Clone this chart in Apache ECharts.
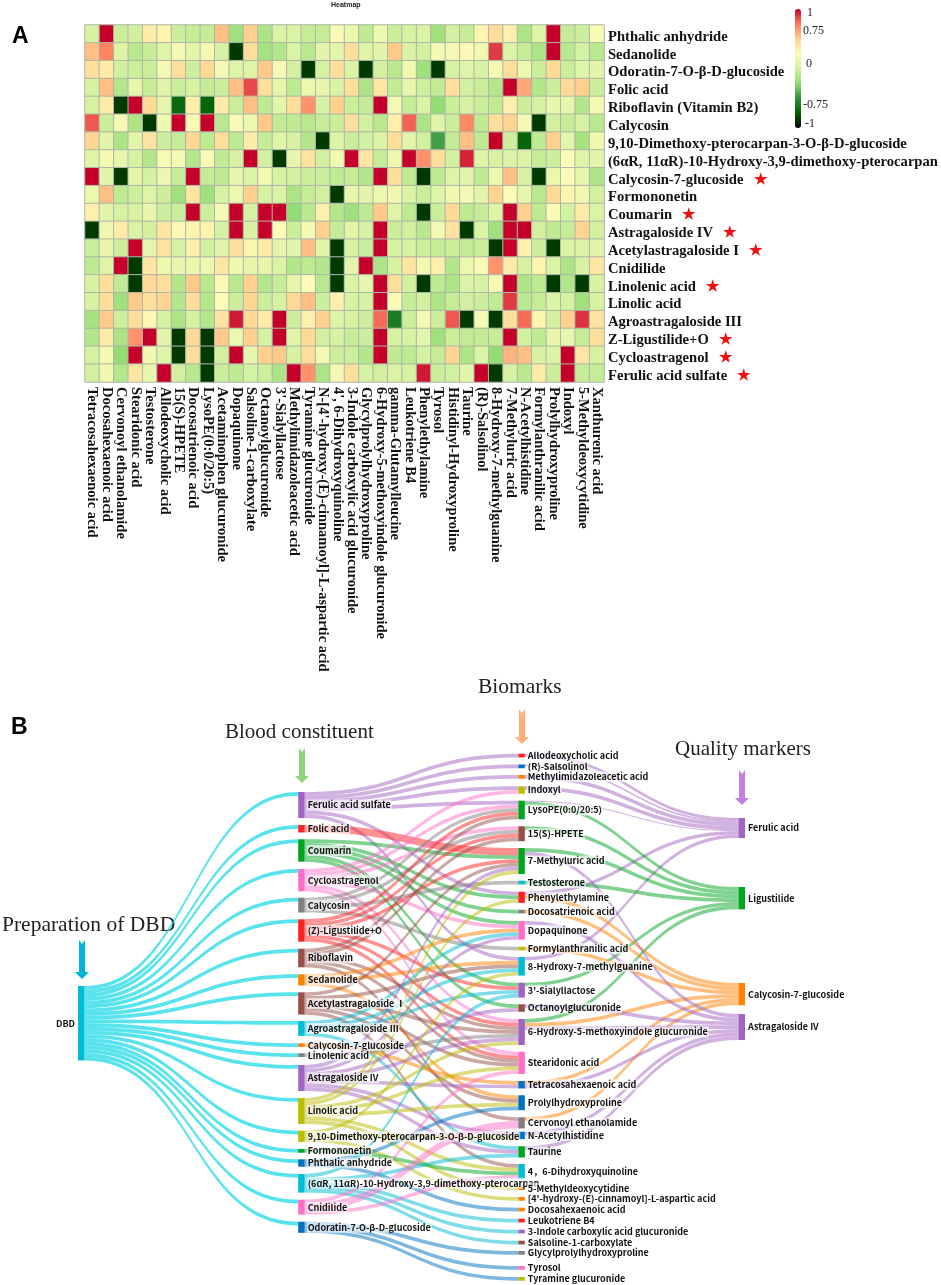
<!DOCTYPE html>
<html><head><meta charset="utf-8">
<style>html,body{margin:0;padding:0;background:#fff}#c{width:941px;height:1285px}</style>
<script src="https://cdn.jsdelivr.net/npm/echarts@6/dist/echarts.min.js"></script>
</head><body><div id="c"></div>
<script>
// ---------- Heatmap data ----------
const metabolites = ["Tetracosahexaenoic acid","Docosahexaenoic acid","Cervonoyl ethanolamide","Stearidonic acid","Testosterone","Allodeoxycholic acid","15(S)-HPETE","Docosatrienoic acid","LysoPE(0:0/20:5)","Acetaminophen glucuronide","Dopaquinone","Salsoline-1-carboxylate","Octanoylglucuronide","3'-Sialyllactose","Methylimidazoleacetic acid","Tyramine glucuronide","N-[4'-hydroxy-(E)-cinnamoyl]-L-aspartic acid","4', 6-Dihydroxyquinoline","3-Indole carboxylic acid glucuronide","Glycylprolylhydroxyproline","6-Hydroxy-5-methoxyindole glucuronide","gamma-Glutamylleucine","Leukotriene B4","Phenylethylamine","Tyrosol","Histidinyl-Hydroxyproline","Taurine","(R)-Salsolinol","8-Hydroxy-7-methylguanine","7-Methyluric acid","N-Acetylhistidine","Formylanthranilic acid","Prolylhydroxyproline","Indoxyl","5-Methyldeoxycytidine","Xanthurenic acid"];
const constituents = ["Phthalic anhydride","Sedanolide","Odoratin-7-O-β-D-glucoside","Folic acid","Riboflavin (Vitamin B2)","Calycosin","9,10-Dimethoxy-pterocarpan-3-O-β-D-glucoside","(6αR, 11αR)-10-Hydroxy-3,9-dimethoxy-pterocarpan","Calycosin-7-glucoside","Formononetin","Coumarin","Astragaloside IV","Acetylastragaloside I","Cnidilide","Linolenic acid","Linolic acid","Agroastragaloside III","Z-Ligustilide+O","Cycloastragenol","Ferulic acid sulfate"];
const starred = ["Calycosin-7-glucoside","Coumarin","Astragaloside IV","Acetylastragaloside I","Linolenic acid","Z-Ligustilide+O","Cycloastragenol","Ferulic acid sulfate"];
const r01 = [.03,1,-.03,0,.35,.3,-.03,-.05,-.05,.55,-.2,.5,-.15,.05,.05,-.05,-.05,.22,.15,-.07,.15,-.03,.03,.05,-.2,0,-.05,.3,.42,.32,-.15,.07,1,-.05,-.02,.22];
const r02 = [.55,.72,.08,-.1,-.05,.08,.2,.1,.2,.02,-.85,.42,-.18,-.12,.05,-.1,.1,.1,.42,.08,.1,.52,.05,0,.2,.2,.28,.18,.88,.05,-.05,-.15,1,-.1,.02,-.1];
const r03 = [.42,.35,0,-.03,-.03,.2,.42,-.02,.45,.2,.07,.08,.52,.2,0,-.85,.02,.42,.05,-.85,0,-.1,.18,-.2,-.85,.02,.07,.03,.2,.42,.15,-.03,.45,-.03,.07,.1];
const r04 = [.03,.55,-.12,.12,-.05,.08,-.03,.03,-.05,-.03,.55,.85,.42,.12,-.08,.15,.12,.05,.42,-.15,.38,-.06,.12,-.02,-.06,.42,0,-.03,-.12,1,.62,-.12,-.02,.45,.5,-.03];
const r05 = [.03,.35,-.85,1,.45,.12,-.7,.32,-.72,.35,-.03,.55,-.08,.1,.42,.68,.03,.5,-.03,-.06,1,.2,-.05,.05,-.25,-.03,.03,-.03,-.07,.32,-.03,.02,.12,.12,-.12,.2];
const r06 = [.82,-.03,.2,-.15,-.85,.18,1,.22,1,-.1,.22,.15,.52,-.07,-.07,-.1,-.05,-.03,.42,0,-.1,.32,.8,-.15,.08,-.03,.7,-.07,.42,.48,.2,-.85,0,-.05,.03,-.1];
const r07 = [.47,.1,-.15,.1,.4,-.02,-.05,.45,-.08,.42,-.08,.35,-.05,.08,.03,-.12,-.85,.07,-.03,0,.05,.42,.1,0,-.45,-.06,.55,-.08,1,-.02,-.72,-.08,.5,.1,-.18,.18];
const r08 = [.07,.2,.12,.03,-.12,.22,.2,-.12,.22,-.07,.03,1,0,-.85,.12,.4,0,.18,1,.38,-.05,.15,1,.68,.42,0,.93,.07,.03,.05,.06,-.05,-.02,.25,.08,.1];
const r09 = [1,.1,-.85,.1,.02,.15,-.05,1,-.05,-.07,.12,.05,.2,.03,0,-.03,-.02,-.08,-.05,-.12,1,.42,-.08,-.85,-.08,.07,.1,-.07,.15,.55,.03,-.85,.15,.25,.12,-.15];
const r10 = [.15,.55,-.08,-.02,.08,-.02,-.2,.38,-.2,.02,.15,.5,.03,.05,-.15,-.05,0,-.85,.12,.1,.15,.18,.05,-.03,.07,.18,.2,.1,.48,.25,.12,-.1,.45,.3,.18,0];
const r11 = [.32,.1,.03,.03,.12,-.02,-.03,1,-.02,.2,1,.02,1,1,-.25,-.1,.32,-.12,-.2,-.08,.52,.08,-.08,-.85,-.03,.45,-.08,-.05,.07,1,.5,-.08,.22,.02,.35,.05];
const r12 = [-.85,.18,.35,.05,0,.38,.28,.3,.3,.02,1,.03,1,.25,-.03,.2,.5,-.05,.1,.02,1,-.03,0,-.1,.2,.4,-.85,.05,-.2,1,1,0,-.08,-.05,.48,0];
const r13 = [-.03,.12,-.02,1,.12,.4,.02,.32,0,.08,.42,.3,.35,.1,.1,.55,.08,-.85,.03,-.03,1,.03,.03,-.02,-.05,-.03,-.06,-.03,-.85,1,.32,-.02,-.85,.05,.05,.1];
const r14 = [-.08,.08,1,-.85,.38,.18,.12,.15,.15,.38,.18,.12,.12,.05,-.12,-.08,-.12,-.85,.1,1,-.15,.03,.38,.18,.32,-.12,.15,.22,.68,.35,.03,.3,.05,-.15,.03,.38];
const r15 = [.03,.42,-.07,-.85,.45,.42,-.12,.52,-.1,.28,-.1,.5,-.12,-.05,.12,.25,-.1,-.85,.05,.12,1,.42,0,-.85,-.08,-.15,.05,.03,.2,1,-.15,-.08,-.85,-.12,-.85,.03];
const r16 = [.03,.42,-.2,.52,.42,.48,-.12,.42,-.12,.25,-.03,.48,-.03,.02,.45,.55,-.02,.32,.03,.03,1,.25,-.05,0,-.15,-.05,0,-.02,-.07,.88,-.1,-.05,.05,.02,-.2,.03];
const r17 = [-.18,.52,-.02,.42,.28,.02,-.15,.02,-.12,.4,.95,.45,.35,1,-.02,.32,.5,.07,.03,-.02,.78,-.6,-.02,.2,-.02,.82,-.85,.2,-.85,.42,.78,.3,0,.5,.9,.4];
const r18 = [-.12,.35,-.15,.68,1,.1,-.85,.45,-.85,.52,.15,.5,.02,1,.07,.45,0,.03,-.05,-.02,1,.02,.03,.1,-.2,-.03,-.06,-.06,-.05,1,0,-.08,.12,.12,-.05,.42];
const r19 = [.02,.2,-.25,1,.18,.07,-.85,.42,-.85,0,1,.12,.5,.52,.03,.42,.2,-.02,-.02,-.12,1,-.07,-.08,.02,-.05,.48,-.15,.05,-.25,.58,.55,.03,.05,1,.38,.03];
const r20 = [0,.18,-.12,.38,.12,1,0,-.1,-.85,-.03,-.08,.02,-.02,-.15,1,.68,-.15,.2,.42,.02,0,.05,.03,.95,-.03,0,.1,1,-.85,.03,-.1,.35,-.03,1,-.05,-.05];
const heatRows = [r01,r02,r03,r04,r05,r06,r07,r08,r09,r10,r11,r12,r13,r14,r15,r16,r17,r18,r19,r20];
const colorbarTicks = ["1","0.75","0","-0.75","-1"];

// ---------- Sankey data ----------
const rootNode = "DBD";
const bloodNodes = ["Ferulic acid sulfate","Folic acid","Coumarin","Cycloastragenol","Calycosin","(Z)-Ligustilide+O","Riboflavin","Sedanolide","Acetylastragaloside Ⅰ","Agroastragaloside Ⅲ","Calycosin-7-glucoside","Linolenic acid","Astragaloside IV","Linolic acid","9,10-Dimethoxy-pterocarpan-3-O-β-D-glucoside","Formononetin","Phthalic anhydride","(6αR, 11αR)-10-Hydroxy-3,9-dimethoxy-pterocarpan","Cnidilide","Odoratin-7-O-β-D-glucoside"];
const biomarkNodes = ["Allodeoxycholic acid","(R)-Salsolinol","Methylimidazoleacetic acid","Indoxyl","LysoPE(0:0/20:5)","15(S)-HPETE","7-Methyluric acid","Testosterone","Phenylethylamine","Docosatrienoic acid","Dopaquinone","Formylanthranilic acid","8-Hydroxy-7-methylguanine","3'-Sialyllactose","Octanoylglucuronide","6-Hydroxy-5-methoxyindole glucuronide","Stearidonic acid","Tetracosahexaenoic acid","Prolylhydroxyproline","Cervonoyl ethanolamide","N-Acetylhistidine","Taurine","4，6-Dihydroxyquinoline","5-Methyldeoxycytidine","[4'-hydroxy-(E)-cinnamoyl]-L-aspartic acid","Docosahexaenoic acid","Leukotriene B4","3-Indole carboxylic acid glucuronide","Salsoline-1-carboxylate","Glycylprolylhydroxyproline","Tyrosol","Tyramine glucuronide"];
const qualityNodes = ["Ferulic acid","Ligustilide","Calycosin-7-glucoside ","Astragaloside IV "];
const bloodToBiomark = [
 [0,[0,1,2,3,4,8,12]],[1,[6,6]],[2,[9,10,13,14,6,8]],[3,[16,5,4,10,15,3]],[4,[7,5,4,11]],
 [5,[5,4,6,13,16,15]],[6,[19,16,5,4,15]],[7,[10,12,18]],[8,[16,22,15,12,6,18]],[9,[10,13,21,12]],
 [10,[17]],[11,[15]],[12,[17,10,14,15,21,6,20]],[13,[16,22,15,8,6,18,23]],[14,[24,12,20]],
 [15,[22]],[16,[25,18]],[17,[28,13,27,26,21]],[18,[19,16,22,19]],[19,[31,29,30]]
];
const biomarkToQuality = [
 [0,0,.8],[1,0,.45],[2,0,1],[3,0,1],[4,0,.25],[8,0,.95],[12,0,.95],
 [4,1,1],[5,1,1],[6,1,1],[7,1,1],[13,1,1],[15,1,1],
 [8,2,1],[9,2,1],[11,2,1],[15,2,1],[17,2,1],[19,2,1],
 [10,3,1],[14,3,1],[6,3,1],[15,3,1],[17,3,1],[20,3,1],[21,3,1]
];

// ---------- Styling / layout (not data) ----------
const P='#a264c2',R='#ff2424',G='#00a51f',K='#ff6fc8',Y='#808080',B='#985048',O='#ff8200',L='#bcbc00',U='#0072bf',C='#00bcd6';
const rootColor=C;
const bloodColors=[P,R,G,K,Y,R,B,O,B,C,O,Y,P,L,L,G,U,C,K,U];
const biomarkColors=[R,U,O,L,G,B,G,C,R,Y,K,L,C,P,B,P,K,U,U,Y,U,G,C,O,O,O,R,P,B,Y,K,L];
const qualityColors=[P,G,O,P];
const sankeyTop=754, sankeyHeight=526;
const rootTop=[986];
const bloodTops=[792,825,839.3,869,897.7,919.3,948.7,974.3,992.3,1021,1043.3,1053.3,1065,1098,1130.7,1149,1159.3,1174,1199.7,1221.7];
const biomarkTops=[753.7,764.5,775,786.3,800.7,826.3,848,880.7,891.7,909.7,921,946.7,957,982.7,1004.3,1019,1051.7,1081,1095.3,1117.3,1131.7,1146.3,1164,1186.3,1197,1207.7,1218.7,1229.7,1240.7,1251,1266,1277];
const qualityTops=[818,887,983,1014];
const tickLeft=[807,803,806,803,805], tickTop=[7,25,58,99,118];

const mkNodes=(names,colors,tops,depth,pos)=>names.map((n,i)=>({name:n,depth,
  localY:(tops[i]-sankeyTop)/sankeyHeight,
  itemStyle:{color:colors[i]},
  label:pos?{position:pos}:undefined}));
const nodes=[...mkNodes([rootNode],[rootColor],rootTop,0,'left'),
  ...mkNodes(bloodNodes,bloodColors,bloodTops,1),
  ...mkNodes(biomarkNodes,biomarkColors,biomarkTops,2),
  ...mkNodes(qualityNodes,qualityColors,qualityTops,3)];
const links=[];
bloodNodes.forEach(n=>links.push({source:rootNode,target:n,value:1,lineStyle:{color:'#00d4e4',opacity:.65}}));
bloodToBiomark.forEach(([s,ts])=>{
  const cnt={}; ts.forEach(t=>cnt[t]=(cnt[t]||0)+1);
  Object.keys(cnt).forEach(t=>links.push({source:bloodNodes[s],target:biomarkNodes[t],value:cnt[t]}));
});
biomarkToQuality.forEach(([s,t,v])=>links.push({source:biomarkNodes[s],target:qualityNodes[t],value:v,lineStyle:{color:'target',opacity:.5}}));

const heatData=[];
heatRows.forEach((row,y)=>row.forEach((v,x)=>heatData.push([x,y,v])));

const serif='"Liberation Serif","Times New Roman",serif';
const annot=(text,x,y,size)=>({type:'text',left:x,top:y,style:{text,font:size+'px '+serif,fill:'#222'}});
const arrow=(cx,y0,y1,color)=>({type:'polygon',silent:true,shape:{points:[[cx-3,y0],[cx,y0+4],[cx+3,y0],[cx+3,y1-7],[cx+7,y1-7],[cx,y1],[cx-7,y1-7],[cx-3,y1-7]]},style:{fill:color}});

const chart=echarts.init(document.getElementById('c'),null,{renderer:'canvas'});
chart.setOption({
  animation:false,
  backgroundColor:'#fff',
  grid:{left:85,top:25,width:519,height:357,containLabel:false},
  xAxis:{type:'category',data:metabolites,position:'bottom',axisLine:{show:false},axisTick:{show:false},splitLine:{show:false},
    axisLabel:{rotate:-90,interval:0,margin:5,fontFamily:serif,fontWeight:'bold',fontSize:14.5,color:'#111',align:'left',verticalAlign:'middle'}},
  yAxis:{type:'category',data:constituents,inverse:true,position:'right',axisLine:{show:false},axisTick:{show:false},splitLine:{show:false},
    axisLabel:{interval:0,margin:4,fontFamily:serif,fontWeight:'bold',fontSize:14.6,color:'#111',padding:[6,0,0,0],
      formatter:n=>starred.includes(n)?n+'  {star|★}':n,
      rich:{star:{color:'#f01010',fontSize:15,padding:[0,0,0,3]}}}},
  visualMap:{type:'continuous',min:-1,max:1,seriesIndex:0,calculable:false,show:true,left:795,top:9,padding:0,itemWidth:6,itemHeight:119,itemGap:0,text:['',''],showLabel:false,
    inRange:{color:['#000000','#006000','#2f8f3a','#94dc74','#d2f0a0','#fdfdb8','#ffd08e','#ff7a5c','#c4002a']}},
  graphic:[
    {type:'text',left:331,top:2,style:{text:'Heatmap',font:'bold 7px "Liberation Sans",sans-serif',fill:'#222'}},
    {type:'text',left:12,top:25,style:{text:'A',font:'bold 23px "Liberation Sans",sans-serif',fill:'#000'}},
    {type:'text',left:11,top:716,style:{text:'B',font:'bold 23px "Liberation Sans",sans-serif',fill:'#000'}},
    ...colorbarTicks.map((t,i)=>({type:'text',left:tickLeft[i],top:tickTop[i],style:{text:t,font:'12px '+serif,fill:'#222'}})),
    annot('Preparation of DBD',2,914,21.5),annot('Blood constituent',225,722,21),annot('Biomarks',478,676,21.5),annot('Quality markers',675,739,21),
    arrow(82,940,979,'#00b4d8'),arrow(302,748,783,'#90d27e'),arrow(522,709,744,'#ffb07c'),arrow(742,770,805,'#c87ee0')
  ],
  series:[
    {type:'heatmap',data:heatData,itemStyle:{borderColor:'#aeb6a6',borderWidth:1},emphasis:{disabled:true}},
    {type:'sankey',left:78,top:sankeyTop,width:667,height:sankeyHeight,nodeWidth:6.5,nodeGap:7,nodeAlign:'left',layoutIterations:0,draggable:false,
      data:nodes,links:links,emphasis:{disabled:true},
      lineStyle:{color:'source',opacity:.5,curveness:.5},
      label:{show:true,position:'right',distance:2,fontFamily:'"Noto Sans CJK SC","Noto Sans",sans-serif',fontWeight:'bold',fontSize:9,color:'#111',backgroundColor:'rgba(255,255,255,.6)',padding:[1,1]}}
  ]
});
</script></body></html>
